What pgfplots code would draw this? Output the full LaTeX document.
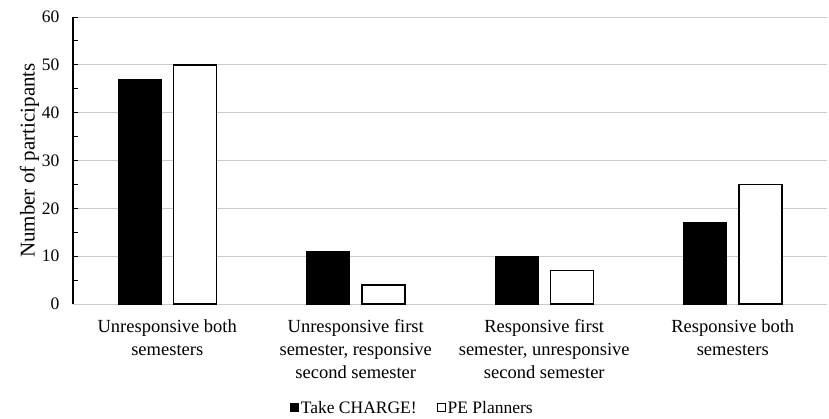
\documentclass[border=0pt]{standalone}
\usepackage{pgfplots}
\pgfplotsset{compat=1.18}
\usepackage{fontspec}
\setmainfont{Liberation Serif}
\begin{document}
\begin{tikzpicture}
\begin{axis}[
  at={(0pt,0pt)}, anchor=south west,
  scale only axis,
  width=754pt, height=287pt,
  ybar, bar width=43pt,
  xmin=-0.5, xmax=3.5,
  ymin=0, ymax=60,
  xtick={0,1,2,3},
  xticklabels={{Unresponsive both\\semesters},{Unresponsive first\\semester, responsive\\second semester},{Responsive first\\semester, unresponsive\\second semester},{Responsive both\\semesters}},
  xticklabel style={align=center, font=\fontsize{18.5}{23}\selectfont, yshift=-12pt},
  x tick style={draw=none},
  ytick={0,10,...,60},
  minor ytick={5,15,...,55},
  tick align=inside,
  major tick length=5pt, minor tick length=5pt,
  y tick style={black, line width=1pt},
  yticklabel style={font=\fontsize{17.5}{20}\selectfont, xshift=-10pt},
  /pgf/number format/assume math mode=true,
  ymajorgrids,
  grid style={gray!40, line width=0.8pt},
  axis x line*=bottom,
  axis y line*=left,
  x axis line style={gray!40, line width=0.8pt, -},
  y axis line style={black, line width=1.5pt, -},
  ylabel={Number of participants},
  ylabel style={font=\fontsize{21}{24}\selectfont, yshift=-4pt},
  legend style={at={(0.45,-0.362)}, anchor=center, draw=none, legend columns=2,
    font=\fontsize{17.5}{20}\selectfont, /tikz/every even column/.append style={column sep=18pt},
    /tikz/every odd column/.append style={column sep=0pt}},
  legend image code/.code={\draw[#1, line width=1pt] (0pt,-4pt) rectangle (8pt,4pt);},
]
\addplot[fill=black, draw=black, line width=1.2pt, bar shift=-27.5pt] coordinates {(0,47) (1,11) (2,10) (3,17)};
\addplot[fill=white, draw=black, line width=1.5pt, bar shift=27.5pt] coordinates {(0,50) (1,4) (2,7) (3,25)};
\legend{Take CHARGE!, PE Planners}
\end{axis}
\pgfresetboundingbox
\path[use as bounding box] (-73pt,-114pt) rectangle (756pt,304pt);
\end{tikzpicture}
\end{document}
